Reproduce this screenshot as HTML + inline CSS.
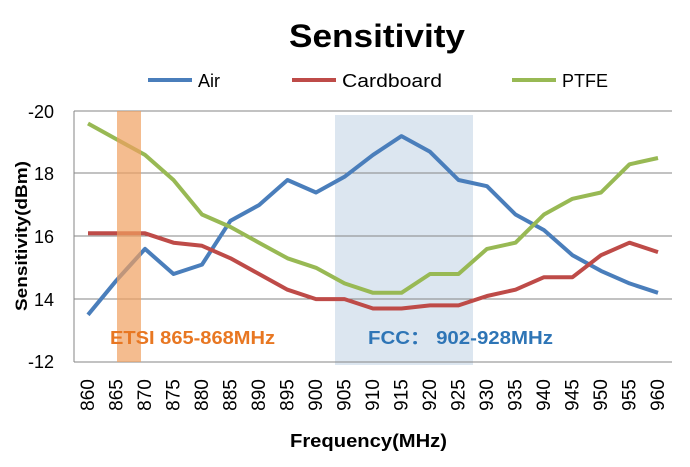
<!DOCTYPE html>
<html><head><style>
body{margin:0;background:#fff;}
text{font-family:"Liberation Sans",sans-serif;}
</style></head><body>
<svg width="690" height="462" viewBox="0 0 690 462" xmlns="http://www.w3.org/2000/svg">
<text x="289" y="47" font-size="32" font-weight="bold" fill="#000" textLength="176" lengthAdjust="spacingAndGlyphs">Sensitivity</text>
<g font-size="18" fill="#000">
<line x1="148" y1="80" x2="192" y2="80" stroke="#4a7ebb" stroke-width="4"/><text x="198" y="87">Air</text>
<line x1="292" y1="80" x2="336" y2="80" stroke="#be4b48" stroke-width="4"/><text x="342" y="87" textLength="100" lengthAdjust="spacingAndGlyphs">Cardboard</text>
<line x1="512" y1="80" x2="556" y2="80" stroke="#98b954" stroke-width="4"/><text x="562" y="87">PTFE</text>
</g>
<rect x="335" y="115" width="138" height="250" fill="#dce6f0"/>
<g stroke="#868686" stroke-width="1">
<line x1="74" y1="173" x2="672" y2="173"/><line x1="74" y1="236" x2="672" y2="236"/><line x1="74" y1="299" x2="672" y2="299"/>
<line x1="74" y1="111" x2="672" y2="111"/>
<line x1="74" y1="111" x2="74" y2="362"/><line x1="74" y1="362" x2="672" y2="362"/>
</g>
<g fill="none" stroke-width="4" stroke-linejoin="round">
<polyline id="air" stroke="#4a7ebb" points=""/>
<polyline id="card" stroke="#be4b48" points=""/>
<polyline id="ptfe" stroke="#98b954" points=""/>
</g>
<rect x="117" y="111" width="24" height="251" fill="#f0a060" opacity="0.7"/>
<text x="110" y="344" font-size="18" font-weight="bold" fill="#e87722" textLength="165" lengthAdjust="spacingAndGlyphs">ETSI 865-868MHz</text>
<text x="368" y="344" font-size="18" font-weight="bold" fill="#2e75b6" textLength="185" lengthAdjust="spacingAndGlyphs">FCC：  902-928MHz</text>
<g font-size="18" text-anchor="end" fill="#000">
<text x="54" y="118">-20</text><text x="54" y="180">18</text><text x="54" y="243">16</text><text x="54" y="306">14</text><text x="54" y="368">-12</text>
</g>
<g id="xl" font-size="19" fill="#000"></g>
<text x="27" y="236" font-size="17" font-weight="bold" text-anchor="middle" transform="rotate(-90 27 236)" textLength="150" lengthAdjust="spacingAndGlyphs">Sensitivity(dBm)</text>
<text x="290" y="447" font-size="18" font-weight="bold" textLength="157" lengthAdjust="spacingAndGlyphs">Frequency(MHz)</text>
</svg>
<script>
var air=[13.5,14.6,15.6,14.8,15.1,16.5,17.0,17.8,17.4,17.9,18.6,19.2,18.7,17.8,17.6,16.7,16.2,15.4,14.9,14.5,14.2];
var card=[16.1,16.1,16.1,15.8,15.7,15.3,14.8,14.3,14.0,14.0,13.7,13.7,13.8,13.8,14.1,14.3,14.7,14.7,15.4,15.8,15.5];
var ptfe=[19.6,19.1,18.6,17.8,16.7,16.3,15.8,15.3,15.0,14.5,14.2,14.2,14.8,14.8,15.6,15.8,16.7,17.2,17.4,18.3,18.5];
function pts(a){return a.map(function(v,i){return (88+i*28.5).toFixed(1)+","+(111+(20-v)*31.35).toFixed(1)}).join(" ");}
document.getElementById("air").setAttribute("points",pts(air));
document.getElementById("card").setAttribute("points",pts(card));
document.getElementById("ptfe").setAttribute("points",pts(ptfe));
var g=document.getElementById("xl"),s="";
for(var i=0;i<21;i++){var x=88+i*28.5+6;s+='<text x="'+x+'" y="395" text-anchor="middle" transform="rotate(-90 '+x+' 395)">'+(860+5*i)+'</text>';}
g.innerHTML=s;
</script>
</body></html>
